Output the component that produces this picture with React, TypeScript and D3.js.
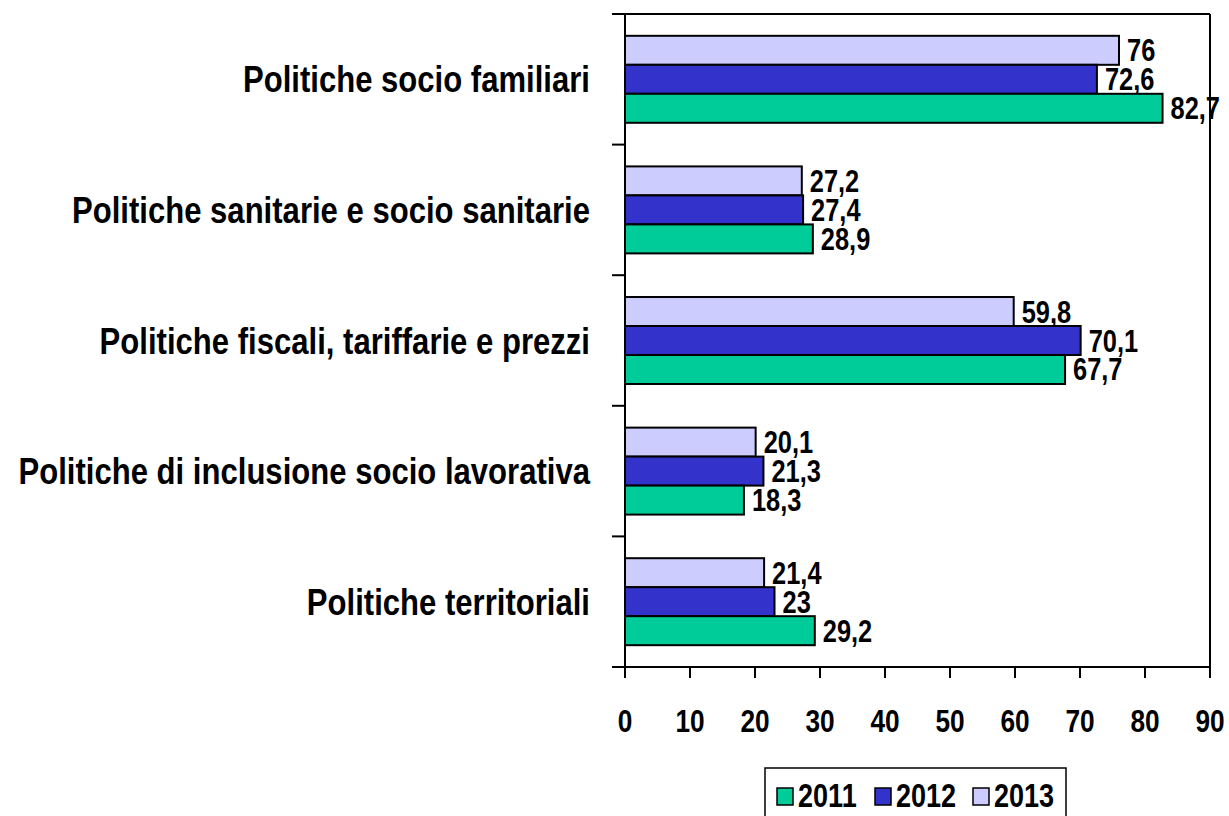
import React from "react";
import * as d3 from "d3";

const categories = [
  "Politiche socio familiari",
  "Politiche sanitarie e socio sanitarie",
  "Politiche fiscali, tariffarie e prezzi",
  "Politiche di inclusione socio lavorativa",
  "Politiche territoriali",
];
const series = ["2013", "2012", "2011"];
const values2011 = [82.7, 28.9, 67.7, 18.3, 29.2];
const values2012 = [72.6, 27.4, 70.1, 21.3, 23];
const values2013 = [76, 27.2, 59.8, 20.1, 21.4];
const xTicks = [0, 10, 20, 30, 40, 50, 60, 70, 80, 90];
const legendItems = ["2011", "2012", "2013"];

const colors: Record<string, string> = {
  "2011": "#00CC99",
  "2012": "#3333CC",
  "2013": "#CCCCFF",
};
const valuesBy: Record<string, number[]> = {
  "2011": values2011,
  "2012": values2012,
  "2013": values2013,
};

const FONT = "'Liberation Sans', Arial, sans-serif";

function NText({ x, y, size, anchor = "start", sx = 0.82, children }: any) {
  return (
    <g transform={`translate(${x},${y}) scale(${sx},1)`}>
      <text
        x={0}
        y={0}
        fontFamily={FONT}
        fontWeight="bold"
        fontSize={size}
        textAnchor={anchor}
        fill="#000"
      >
        {children}
      </text>
    </g>
  );
}

export default function App() {
  const W = 1229;
  const H = 816;
  const left = 625;
  const right = 1210;
  const top = 14;
  const bottom = 667;

  const x = d3.scaleLinear().domain([0, 90]).range([left, right]);
  const y = d3
    .scaleBand<string>()
    .domain(categories)
    .range([top, bottom])
    .paddingInner(0.334)
    .paddingOuter(0.167);
  const inner = d3
    .scaleBand<string>()
    .domain(series)
    .range([0, y.bandwidth()]);
  const step = y.step();
  const boundaries = d3.range(categories.length + 1).map((i) => top + i * step);

  return (
    <svg
      width={W}
      height={H}
      style={{ position: "absolute", left: 0, top: 0, background: "#fff" }}
    >
      {/* frame */}
      <line x1={612} x2={right} y1={top} y2={top} stroke="#000" strokeWidth={2} />
      <line x1={right} x2={right} y1={top} y2={bottom} stroke="#000" strokeWidth={2} />
      {/* bars */}
      {categories.map((c, ci) => (
        <g key={c}>
          {series.map((s) => {
            const v = valuesBy[s][ci];
            const by = (y(c) as number) + (inner(s) as number);
            const bh = inner.bandwidth();
            return (
              <g key={s}>
                <rect
                  x={x(0)}
                  y={by}
                  width={x(v) - x(0)}
                  height={bh}
                  fill={colors[s]}
                  stroke="#000"
                  strokeWidth={2}
                />
                <NText x={x(v) + 8} y={by + bh / 2 + 11} size={31}>
                  {String(v).replace(".", ",")}
                </NText>
              </g>
            );
          })}
          <NText
            x={590}
            y={(y(c) as number) + y.bandwidth() / 2 + 13}
            size={37}
            sx={0.84}
            anchor="end"
          >
            {c}
          </NText>
        </g>
      ))}
      {/* y axis */}
      <line x1={left} x2={left} y1={top} y2={bottom} stroke="#000" strokeWidth={2} />
      {boundaries.map((b, i) => (
        <line key={i} x1={612} x2={left} y1={b} y2={b} stroke="#000" strokeWidth={2} />
      ))}
      {/* x axis */}
      <line x1={612} x2={right} y1={bottom} y2={bottom} stroke="#000" strokeWidth={2} />
      {xTicks.map((t) => (
        <g key={t}>
          <line x1={x(t)} x2={x(t)} y1={bottom} y2={bottom + 11} stroke="#000" strokeWidth={2} />
          <NText x={x(t)} y={732} size={32} anchor="middle">
            {t}
          </NText>
        </g>
      ))}
      {/* legend */}
      <rect x={765} y={768} width={301} height={60} fill="#fff" stroke="#000" strokeWidth={1.5} />
      {legendItems.map((s, i) => {
        const lx = 777 + i * 98;
        return (
          <g key={s}>
            <rect x={lx} y={788} width={16} height={17} fill={colors[s]} stroke="#000" strokeWidth={1.5} />
            <NText x={lx + 21} y={807} size={33}>
              {s}
            </NText>
          </g>
        );
      })}
    </svg>
  );
}
